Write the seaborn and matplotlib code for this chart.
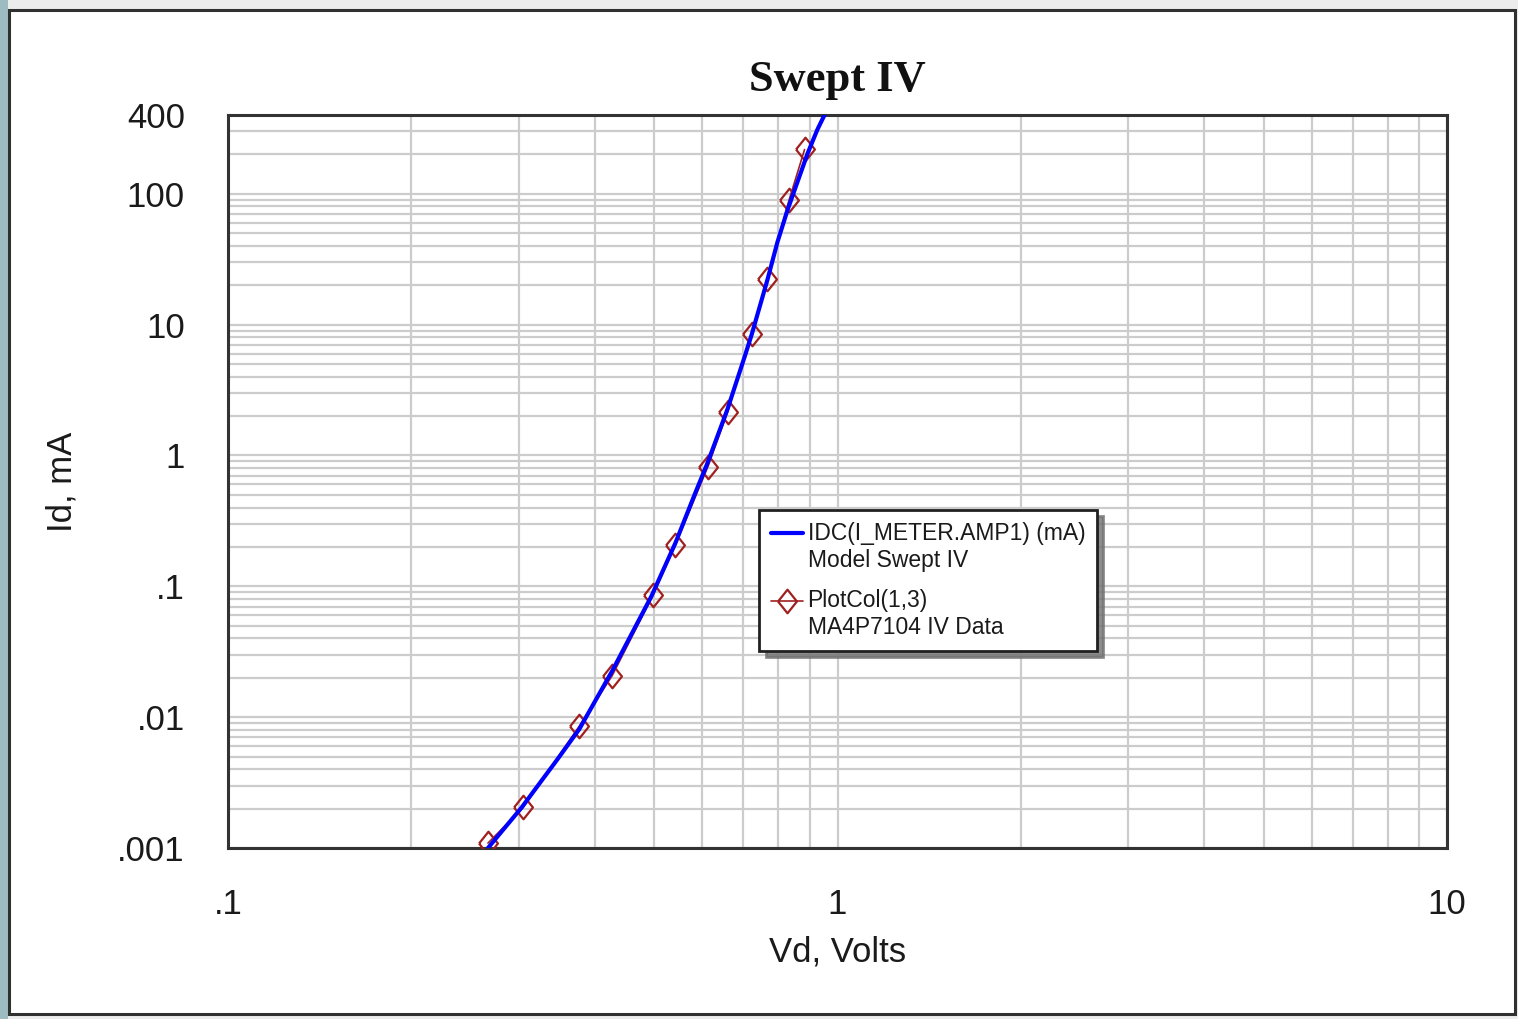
import numpy as np
import pandas as pd
import matplotlib
matplotlib.use("Agg")
import matplotlib.pyplot as plt
import seaborn as sns
from matplotlib.lines import Line2D
from matplotlib.legend_handler import HandlerLine2D
from matplotlib.patches import Rectangle
from matplotlib.ticker import FixedLocator, FixedFormatter, LogLocator, NullFormatter

# ---------------- data ----------------
model_v = [0.267, 0.303, 0.347, 0.377, 0.427, 0.495, 0.542, 0.5845, 0.6115,
           0.660, 0.704, 0.723, 0.767, 0.797, 0.828, 0.860, 0.893, 0.927, 0.966]
model_i = [0.001, 0.00203, 0.00475, 0.0081, 0.0226, 0.0838, 0.214, 0.519, 0.868,
           2.26, 5.67, 8.38, 21.8, 42.7, 75.3, 123.7, 203, 310, 459]

meas_v = [0.267, 0.305, 0.377, 0.427, 0.498, 0.542, 0.613, 0.660, 0.723,
          0.767, 0.833, 0.883]
meas_i = [0.00109, 0.00204, 0.00853, 0.0208, 0.0853, 0.207, 0.823, 2.14, 8.53,
          22.3, 89.9, 218]

x_ticks = [0.1, 1, 10]
x_tick_labels = [".1", "1", "10"]
y_ticks = [0.001, 0.01, 0.1, 1, 10, 100, 400]
y_tick_labels = [".001", ".01", ".1", "1", "10", "100", "400"]

title = "Swept IV"
x_label = "Vd, Volts"
y_label = "Id, mA"
model_label = "IDC(I_METER.AMP1) (mA)\nModel Swept IV"
meas_label = "PlotCol(1,3)\nMA4P7104 IV Data"

# ---------------- style ----------------
sns.set_theme(style="white")
plt.rcParams['font.family'] = ['Liberation Sans', 'DejaVu Sans']

W, H = 1518, 1019
fig = plt.figure(figsize=(W / 100, H / 100), dpi=100, facecolor='#ececec')
fig.patches.append(Rectangle((0, 0), 8 / W, 1, transform=fig.transFigure,
                             facecolor='#9dbcc2', edgecolor='none', zorder=-10))
fig.patches.append(Rectangle((9 / W, 5 / H), 1506 / W, 1004 / H, transform=fig.transFigure,
                             facecolor='white', edgecolor='#303030', lw=2.2, zorder=-9))

ax = fig.add_axes([228 / W, 1 - 848 / H, 1219 / W, 733 / H])
ax.set_facecolor('white')

red = '#a02020'
diamond = [(-0.4, 0), (0, 0.5), (0.4, 0), (0, -0.5), (-0.4, 0)]

dfm = pd.DataFrame({"v": meas_v, "i": meas_i})
sns.lineplot(data=dfm, x="v", y="i", ax=ax, estimator=None, sort=False,
             color=red, lw=1.2, marker=diamond, markersize=17,
             markerfacecolor='none', markeredgecolor=red, markeredgewidth=1.6,
             label=meas_label, zorder=3)
dfl = pd.DataFrame({"v": model_v, "i": model_i})
sns.lineplot(data=dfl, x="v", y="i", ax=ax, estimator=None, sort=False,
             color='#0000ff', lw=3, label=model_label, zorder=4)

ax.set_xscale('log')
ax.set_yscale('log')
ax.set_xlim(0.1, 10)
ax.set_ylim(0.001, 400)

ax.xaxis.set_major_locator(FixedLocator(x_ticks))
ax.xaxis.set_major_formatter(FixedFormatter(x_tick_labels))
ax.yaxis.set_major_locator(FixedLocator(y_ticks))
ax.yaxis.set_major_formatter(FixedFormatter(y_tick_labels))
for axis in (ax.xaxis, ax.yaxis):
    axis.set_minor_locator(LogLocator(base=10, subs=np.arange(2, 10), numticks=100))
    axis.set_minor_formatter(NullFormatter())

ax.tick_params(which='both', length=0)
ax.tick_params(axis='x', which='major', pad=29, labelsize=25, labelcolor='#1a1a1a')
ax.tick_params(axis='y', which='major', pad=31, labelsize=25, labelcolor='#1a1a1a')

ax.grid(True, which='both', color='#cccccc', lw=1.6)
ax.set_axisbelow(True)
for s in ax.spines.values():
    s.set_visible(True)
    s.set_color('#333333')
    s.set_linewidth(2.2)

ax.set_xlabel(x_label, fontsize=25, color='#1a1a1a')
ax.xaxis.set_label_coords(0.5, -0.120)
ax.set_ylabel(y_label, fontsize=25, color='#1a1a1a')
ax.yaxis.set_label_coords(-0.123, 0.5)

ax.set_title(title, fontsize=32, fontweight='bold',
             family=['Liberation Serif', 'DejaVu Serif'], pad=17, color='#111111')


class TopLineHandler(HandlerLine2D):
    """Align the legend handle with the first line of a two-line label."""
    def create_artists(self, legend, orig_handle, xdescent, ydescent,
                       width, height, fontsize, trans):
        arts = super().create_artists(legend, orig_handle, xdescent, ydescent,
                                      width, height, fontsize, trans)
        for a in arts:
            a.set_ydata(np.asarray(a.get_ydata(), float) + 0.63 * fontsize)
        return arts


handles, labels = ax.get_legend_handles_labels()
hmap = dict(zip(labels, handles))
leg = ax.legend(handles=[hmap[model_label], hmap[meas_label]],
                labels=[model_label, meas_label],
                loc='upper left', bbox_to_anchor=(0.436, 0.461), borderaxespad=0,
                fontsize=16.5, frameon=True, fancybox=False, framealpha=1,
                edgecolor='#202020',
                shadow={'ox': 4.5, 'oy': -4.5, 'color': '#707070', 'alpha': 0.8},
                handlelength=1.4, handletextpad=0.2, borderpad=0.5,
                labelspacing=0.72, numpoints=1,
                handler_map={Line2D: TopLineHandler()})
leg.get_frame().set_linewidth(2)
for t in leg.get_texts():
    t.set_color('#1a1a1a')
    t.set_linespacing(1.26)

fig.savefig("out.png", dpi=100, facecolor=fig.get_facecolor())
